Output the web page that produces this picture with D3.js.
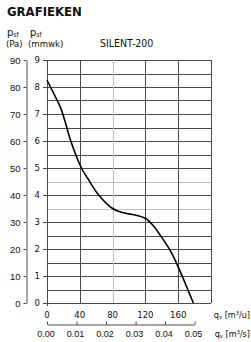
<!DOCTYPE html>
<html>
<head>
<meta charset="utf-8">
<script src="https://cdn.jsdelivr.net/npm/d3@7"></script>
<style>
  body { margin: 0; background: #fff; }
  svg { display: block; font-family: "DejaVu Sans Condensed", "DejaVu Sans", sans-serif; }
</style>
</head>
<body>
<div id="chart"></div>
<script>
// curve: airflow in m3/h, pressure in mmwk
const flowM3h = [0, 10, 17, 23, 29, 42, 50, 63, 80, 90, 100, 110, 120, 130, 136, 150, 160, 170, 178.5];
const pressMmwk = [8.25, 7.65, 7.2, 6.62, 6.0, 5.0, 4.6, 4.0, 3.5, 3.37, 3.3, 3.24, 3.14, 2.85, 2.6, 1.96, 1.34, 0.62, 0];

// tick labels
const flowTicks = [0, 40, 80, 120, 160];
const flowGrid = [0, 40, 80, 120, 160, 200];
const flowSecTicks = [0, 0.01, 0.02, 0.03, 0.04, 0.05];
const paTicks = [0, 10, 20, 30, 40, 50, 60, 70, 80, 90];
const mmwkTicks = [0, 1, 2, 3, 4, 5, 6, 7, 8, 9];
const mmwkGrid = d3.range(0, 9.01, 0.5);

const W = 251, H = 342;
const svg = d3.select("#chart").append("svg").attr("width", W).attr("height", H);

// scales
const x = d3.scaleLinear().domain([0, 200]).range([47, 211]);
const y = d3.scaleLinear().domain([0, 9]).range([303, 60]);
const yPa = d3.scaleLinear().domain([0, 90]).range([303, 60]);
const xSec = d3.scaleLinear().domain([0, 0.05]).range([x(0), x(180)]);

const lineCol = "#4a4a4a";
const lightCol = "#bdbdbd";
const txtCol = "#111";

// title + headings
svg.append("text").attr("x", 7).attr("y", 16).attr("font-size", 13).attr("font-weight", 700)
  .attr("fill", txtCol).text("GRAFIEKEN");

const psf = (px, py) => {
  const t = svg.append("text").attr("x", px).attr("y", py).attr("font-size", 11).attr("fill", txtCol);
  t.append("tspan").text("p");
  t.append("tspan").attr("font-size", 7).attr("dy", 1).text("sf");
};
psf(7, 36);
psf(30, 36);
svg.append("text").attr("x", 6).attr("y", 47).attr("font-size", 9.5).attr("fill", txtCol).text("(Pa)");
svg.append("text").attr("x", 28).attr("y", 47).attr("font-size", 9.5).attr("fill", txtCol).text("(mmwk)");
svg.append("text").attr("x", 100).attr("y", 47).attr("font-size", 10.5).attr("fill", txtCol).text("SILENT-200");

// grid
const grid = svg.append("g").attr("shape-rendering", "crispEdges");
grid.selectAll("line.h")
  .data(mmwkGrid)
  .join("line")
  .attr("class", "h")
  .attr("x1", d => Number.isInteger(d) ? 43 : x(0))
  .attr("x2", x(200))
  .attr("y1", d => Math.round(y(d)) + 0.5)
  .attr("y2", d => Math.round(y(d)) + 0.5)
  .attr("stroke", d => (d === 3.5 || d === 4.5) ? lightCol : lineCol)
  .attr("stroke-width", 1);
grid.selectAll("line.v")
  .data(flowGrid)
  .join("line")
  .attr("class", "v")
  .attr("x1", d => Math.round(x(d)) + 0.5)
  .attr("x2", d => Math.round(x(d)) + 0.5)
  .attr("y1", y(9))
  .attr("y2", d => d === 0 ? 306 : y(0))
  .attr("stroke", d => d === 80 ? lightCol : lineCol)
  .attr("stroke-width", 1);

// mmwk labels
svg.selectAll("text.mm")
  .data(mmwkTicks)
  .join("text")
  .attr("class", "mm")
  .attr("x", 40)
  .attr("y", d => y(d))
  .attr("dy", "0.35em")
  .attr("text-anchor", "end")
  .attr("font-size", 9.5)
  .attr("fill", txtCol)
  .text(d => d);

// Pa axis
const paAxis = svg.append("g").attr("transform", "translate(26.5,0)")
  .call(d3.axisLeft(yPa).tickValues(paTicks).tickSize(3).tickSizeOuter(0).tickPadding(3));
paAxis.select(".domain").attr("stroke", lineCol);
paAxis.selectAll(".tick line").attr("stroke", lineCol);
paAxis.selectAll("text").attr("font-size", 9.5).attr("fill", txtCol).attr("font-family", null);

// m3/h labels
svg.selectAll("text.qh")
  .data(flowTicks)
  .join("text")
  .attr("class", "qh")
  .attr("x", d => x(d))
  .attr("y", 318)
  .attr("text-anchor", "middle")
  .attr("font-size", 9.5)
  .attr("fill", txtCol)
  .text(d => d);

const qLabel = (px, py, unit) => {
  const t = svg.append("text").attr("x", px).attr("y", py).attr("font-size", 9)
    .attr("text-anchor", "end").attr("fill", txtCol);
  t.append("tspan").text("q");
  t.append("tspan").attr("font-size", 6).attr("dy", 1).text("v");
  t.append("tspan").attr("dy", -1).text(" [" + unit + "]");
};
qLabel(250, 318, "m³/u");

// m3/s axis
const secAxis = svg.append("g").attr("transform", "translate(0,324.5)")
  .call(d3.axisTop(xSec).tickValues(flowSecTicks).tickSize(3).tickSizeOuter(0).tickFormat(d3.format(".2f")));
secAxis.select(".domain").attr("stroke", lineCol);
secAxis.selectAll(".tick line").attr("stroke", lineCol);
secAxis.selectAll("text").attr("y", 12.5).attr("dy", 0).attr("x", -1.5)
  .attr("font-size", 9).attr("fill", txtCol).attr("font-family", null);
qLabel(250, 337, "m³/s");

// fan curve
const pts = flowM3h.map((q, i) => [q, pressMmwk[i]]);
svg.append("path")
  .datum(pts)
  .attr("fill", "none")
  .attr("stroke", "#000")
  .attr("stroke-width", 1.6)
  .attr("d", d3.line().x(d => x(d[0])).y(d => y(d[1])).curve(d3.curveCatmullRom.alpha(0.5)));
</script>
</body>
</html>
